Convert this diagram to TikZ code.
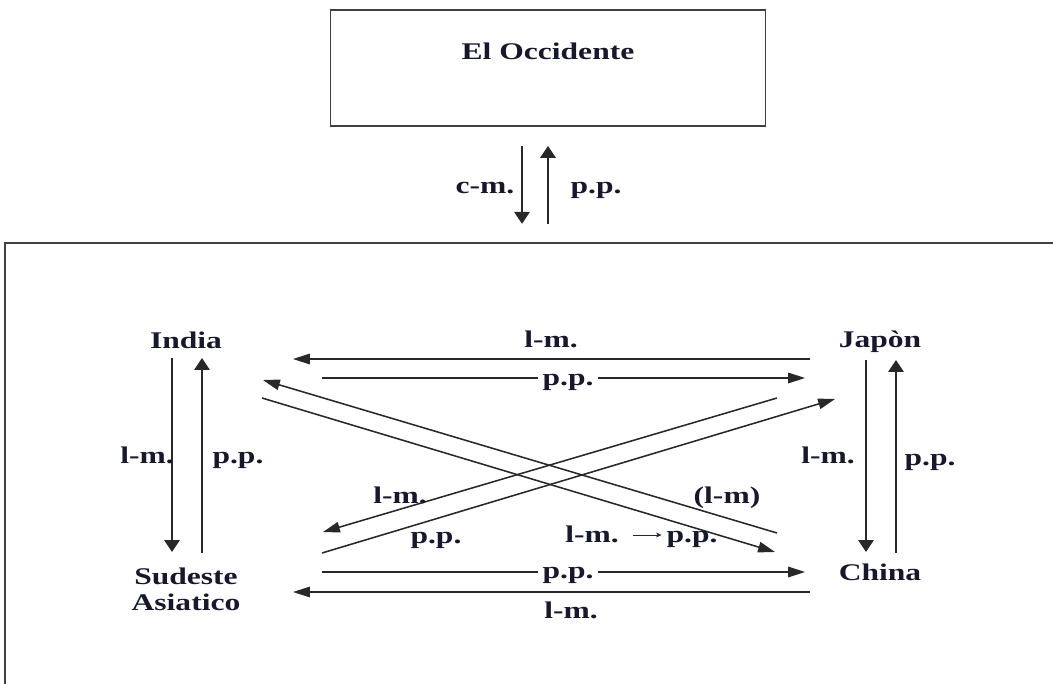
\documentclass[tikz,border=0pt]{standalone}
\usepackage{fontspec}
\setmainfont{Liberation Serif}[FakeStretch=1.32]
\usetikzlibrary{arrows.meta,calc}
\definecolor{inkblue}{RGB}{24,24,44}
\definecolor{linegray}{RGB}{40,40,40}

\begin{document}
\begin{tikzpicture}[x=0.025cm, y=-0.025cm, font=\bfseries\fontsize{17}{18}\selectfont, text=inkblue,
  flow/.style={draw=linegray, line width=1.1pt, -{Triangle[length=12pt,width=7.5pt]}},
  vflow/.style={draw=linegray, line width=1.1pt, -{Triangle[length=8.5pt,width=11pt]}},
  tag/.style={anchor=base},
  tagw/.style={anchor=base, fill=white, inner ysep=1pt}]
  \useasboundingbox (0,0) rectangle (1053,684);

  % the West, on top
  \node[draw=black!75, line width=1.2pt, anchor=base, inner sep=0pt, minimum width=10.875cm,
        text height=1.225cm, text depth=1.675cm] (Occ) at (548,59) {El Occidente};
  \draw[vflow] ($(Occ.south)+(-26,19)$) -- ($(Occ.south)+(-26,97)$);
  \draw[vflow] ($(Occ.south)+(0,97)$) -- ($(Occ.south)+(0,19)$);
  \node[tag] (cm) at (485,193) {c-m.};
  \node[tag] (ppW) at (596,193) {p.p.};

  % open frame of the region
  \draw[black!75, line width=1.2pt] (1060,243) -- (5,243) -- (5,690);

  % the four places
  \node[tag] (India) at (186,348) {India};
  \node[tag] (Japon) at (880,347) {Japòn};
  \node[tag] (China) at (880,580) {China};
  \node[anchor=base, align=center] (Sudeste) at (186,610) {Sudeste\\Asiatico};

  % verticals
  \draw[vflow] ($(India.base)+(-14,10)$) -- ($(Sudeste.base)+(-14,-58)$);
  \draw[vflow] ($(Sudeste.base)+(16,-57)$) -- ($(India.base)+(16,10)$);
  \draw[vflow] ($(Japon.base)+(-14,13)$) -- ($(China.base)+(-14,-28)$);
  \draw[vflow] ($(China.base)+(16,-27)$) -- ($(Japon.base)+(16,13)$);

  % horizontals
  \draw[flow] ($(Japon.base)+(-70,12)$) -- ($(India.base)+(107,11)$);
  \draw[flow] ($(India.base)+(136,30)$) -- ($(Japon.base)+(-75,31)$);
  \draw[flow] ($(Sudeste.base)+(136,-38)$) -- ($(China.base)+(-75,-8)$);
  \draw[flow] ($(China.base)+(-70,12)$) -- ($(Sudeste.base)+(107,-18)$);

  % diagonals
  \draw[flow] ($(India.base)+(76,50)$) -- ($(China.base)+(-105,-28)$);
  \draw[flow] ($(China.base)+(-103,-47)$) -- ($(India.base)+(77,32)$);
  \draw[flow] ($(Japon.base)+(-103,51)$) -- ($(Sudeste.base)+(137,-78)$);
  \draw[flow] ($(Sudeste.base)+(136,-57)$) -- ($(Japon.base)+(-45,52)$);

  % labels
  \node[tag] (lmIS) at (147,463) {l-m.};
  \node[tag] (ppSI) at (238,463) {p.p.};
  \node[tag] (lmJC) at (828,463) {l-m.};
  \node[tag] (ppCJ) at (930,465) {p.p.};
  \node[tag] (lmJI) at (551,347) {l-m.};
  \node[tagw] (ppIJ) at (568,385) {p.p.};
  \node[tagw] (ppSC) at (568,578) {p.p.};
  \node[tag] (lmCS) at (571,618) {l-m.};
  \node[tag] (lmJS) at (400,503) {l-m.};
  \node[tag] (ppSJ) at (436,543) {p.p.};
  \node[tag] (lmCI) at (727,503) {(l-m)};
  \node[tag] (lmIC) at (592,542) {l-m.};
  \node[tag] (ppIC) at (692,542) {p.p.};
  \draw[linegray, line width=0.6pt, -{Stealth[length=4pt,width=3.5pt]}]
    ($(lmIC.base east)+(9,-7)$) -- ($(ppIC.base west)+(0,-7)$);
\end{tikzpicture}
\end{document}
